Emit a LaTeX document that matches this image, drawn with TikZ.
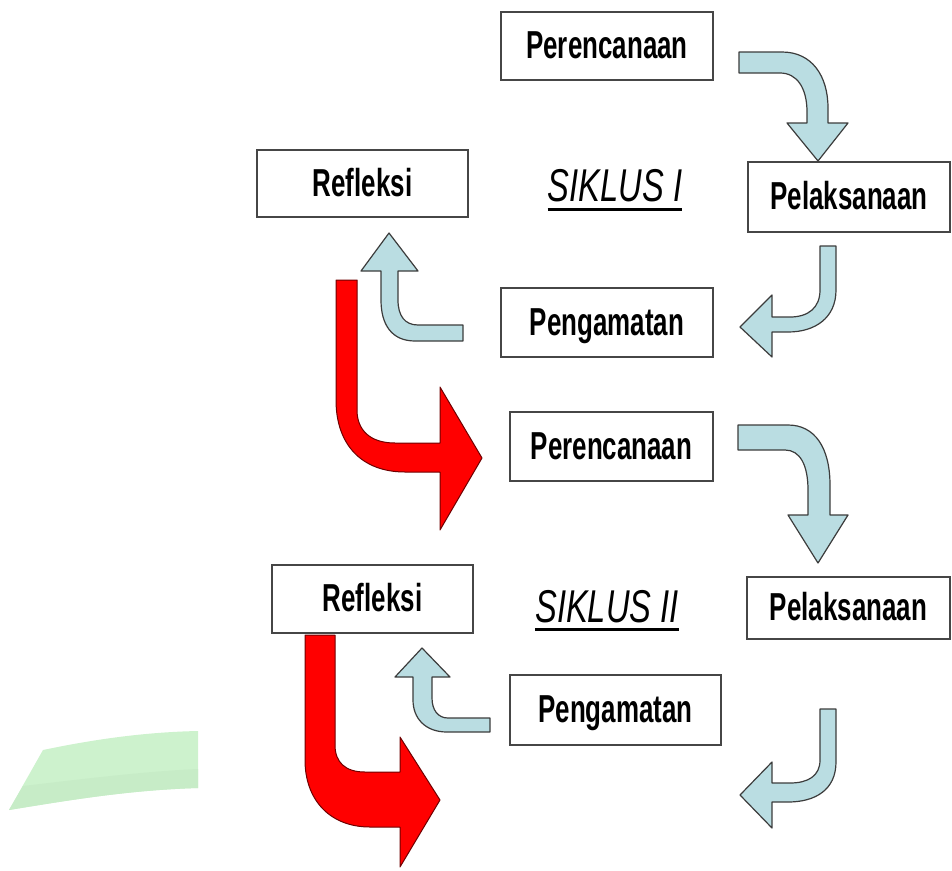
\documentclass[tikz,border=0pt]{standalone}
\usepackage{fontspec}
\setmainfont{Liberation Sans}
\definecolor{arrowBlue}{RGB}{186,221,226}
\definecolor{arrowEdge}{RGB}{60,60,60}
\definecolor{boxEdge}{RGB}{70,70,70}
\definecolor{nextRed}{RGB}{255,0,0}
\definecolor{nextEdge}{RGB}{110,0,0}
\definecolor{leafGreen}{RGB}{205,242,205}
\definecolor{leafShade}{RGB}{199,236,199}
\newcommand{\narrowtext}[2]{\scalebox{#1}[1]{#2}}
\tikzstyle{stage} = [rectangle, draw=boxEdge, line width=1.3pt, fill=white, inner sep=0pt, text height=28pt, text depth=3pt, font=\fontsize{39}{42}\selectfont\bfseries]
\tikzstyle{cycletitle} = [inner sep=0pt, text height=33pt, text depth=0pt, font=\fontsize{46}{48}\selectfont\itshape]
\tikzstyle{bluearrow} = [fill=arrowBlue, draw=arrowEdge, line width=1.2pt, line join=round]
\tikzstyle{redarrow} = [fill=nextRed, draw=nextEdge, line width=1pt, line join=round]

\begin{document}
\begin{tikzpicture}[x=1pt, y=-1pt]
			\useasboundingbox (0,0) rectangle (952,870);
			\fill[leafGreen] (43,750) .. controls (100,738) and (150,732) .. (198,731) -- (198,788) .. controls (130,790) and (70,800) .. (9,810) -- cycle;
			\fill[leafShade] (23,786) .. controls (90,778) and (150,771) .. (198,769) -- (198,788) .. controls (130,790) and (70,800) .. (9,810) -- cycle;
			
			\node (per1) [stage, minimum width=212pt, minimum height=68pt] at (607,46) {\narrowtext{0.665}{Perencanaan}};
			\node (ref1) [stage, minimum width=211pt, minimum height=67pt] at (362.5,183.5) {\narrowtext{0.665}{Refleksi}};
			\node (pel1) [stage, minimum width=202pt, minimum height=70pt] at (849,197) {\narrowtext{0.665}{Pelaksanaan}};
			\node (pen1) [stage, minimum width=212pt, minimum height=69pt] at (607,322.5) {\narrowtext{0.665}{Pengamatan}};
			\node (sik1) [cycletitle] at (615,185) {\narrowtext{0.71}{SIKLUS I}};
			\draw[line width=3pt] ([yshift=-8pt]sik1.south west) -- ([yshift=-8pt]sik1.south east);
			
			\node (per2) [stage, minimum width=203pt, minimum height=69pt] at (611.5,446.5) {\narrowtext{0.665}{Perencanaan}};
			\node (ref2) [stage, minimum width=201pt, minimum height=68pt] at (372.5,599) {\narrowtext{0.665}{Refleksi}};
			\node (pel2) [stage, minimum width=203pt, minimum height=62pt] at (848.5,608) {\narrowtext{0.665}{Pelaksanaan}};
			\node (pen2) [stage, minimum width=211pt, minimum height=70pt] at (615.5,710) {\narrowtext{0.665}{Pengamatan}};
			\node (sik2) [cycletitle] at (607,606) {\narrowtext{0.71}{SIKLUS II}};
			\draw[line width=3pt] ([yshift=-7pt]sik2.south west) -- ([yshift=-7pt]sik2.south east);
			
			\draw[bluearrow] (739,52) -- (782,52) .. controls (812,52) and (828,76) .. (828,108) -- (828,123) -- (848,123) -- (818,161) -- (787,123) -- (807,123) -- (807,112) .. controls (807,88) and (797,73) .. (780,73) -- (739,73) -- cycle;
			\draw[bluearrow] (820,246) -- (836,246) -- (836,290) .. controls (836,318) and (815,332) .. (788,332) -- (772,332) -- (772,357) -- (740,327) -- (772,295) -- (772,317) -- (790,317) .. controls (808,317) and (820,308) .. (820,290) -- cycle;
			\draw[bluearrow] (463,325) -- (463,341) -- (415,341) .. controls (392,341) and (381,325) .. (381,300) -- (381,271) -- (361,271) -- (389,233) -- (418,271) -- (398,271) -- (398,300) .. controls (398,316) and (405,325) .. (418,325) -- cycle;
			\draw[redarrow] (336,280) -- (357,280) -- (357,410) .. controls (357,430) and (370,443) .. (395,443) -- (440,443) -- (440,387) -- (482,458) -- (440,530) -- (440,472) -- (405,472) .. controls (362,472) and (336,445) .. (336,400) -- cycle;
			
			\draw[bluearrow] (738,425) -- (788,425) .. controls (815,425) and (830,448) .. (830,485) -- (830,515) -- (848,515) -- (818,563) -- (788,515) -- (808,515) -- (808,490) .. controls (808,465) and (800,450) .. (785,450) -- (738,450) -- cycle;
			\draw[bluearrow] (820,709) -- (836,709) -- (836,762) .. controls (836,790) and (815,802) .. (788,802) -- (772,802) -- (772,828) -- (740,795) -- (772,762) -- (772,783) -- (790,783) .. controls (808,783) and (820,776) .. (820,760) -- cycle;
			\draw[bluearrow] (490,718) -- (490,732) -- (447,732) .. controls (425,732) and (413,718) .. (413,700) -- (413,677) -- (395,677) -- (422,648) -- (450,677) -- (432,677) -- (432,698) .. controls (432,710) and (438,718) .. (448,718) -- cycle;
			\draw[redarrow] (305,635) -- (335,635) -- (335,745) .. controls (335,762) and (345,772) .. (365,772) -- (400,772) -- (400,737) -- (440,800) -- (400,867) -- (400,827) -- (370,827) .. controls (330,827) and (305,800) .. (305,760) -- cycle;
\end{tikzpicture}
\end{document}
